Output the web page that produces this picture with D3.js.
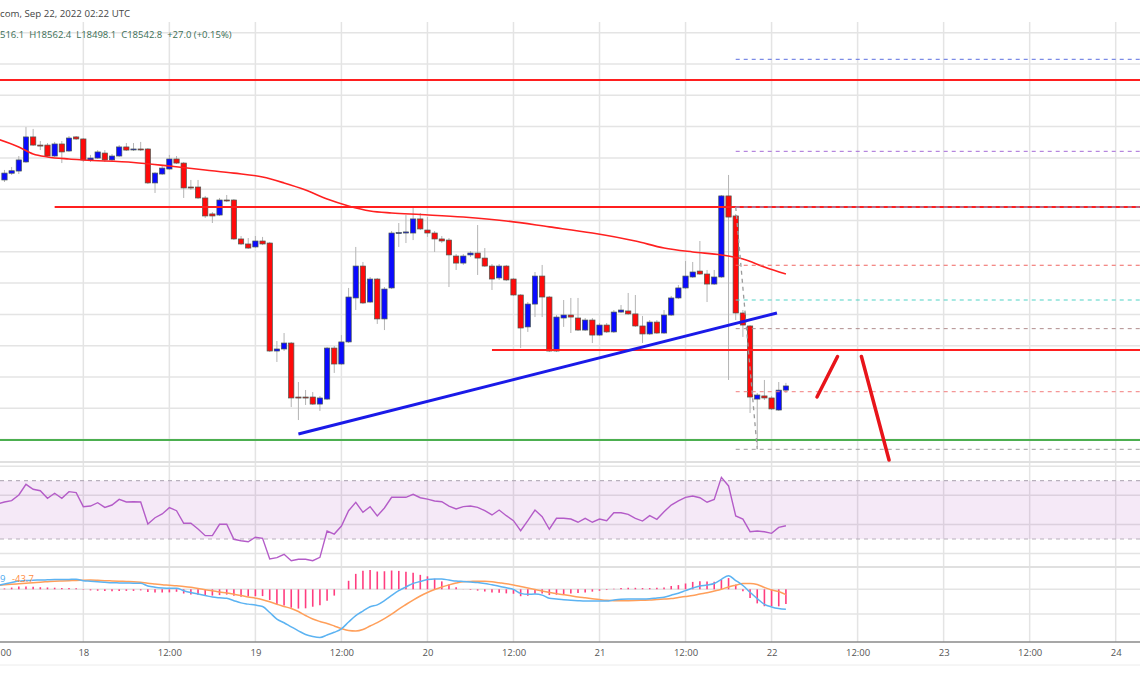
<!DOCTYPE html>
<html><head><meta charset="utf-8">
<script src="https://cdn.jsdelivr.net/npm/d3@7"></script>
<style>html,body{margin:0;padding:0;background:#fff;overflow:hidden;} svg{display:block;font-family:"Open Sans",sans-serif;}</style>
</head><body><svg id="c" width="1140" height="694"></svg>
<script>
// ---------------- DATA ----------------
const startTime = "2022-09-17T13:00:00Z";      // first hourly candle
const indicatorStart = "2022-09-17T12:00:00Z"; // first indicator value
const opens  = [19859,19902,19916,19974,20134,20082,20082,20012,20089,20044,20134,20121,19987,19999,20031,19987,20012,20070,20054,20057,20057,19840,19897,19929,19993,19967,19814,19814,19744,19642,19635,19731,19731,19482,19450,19431,19469,19456,18766,18779,18817,18472,18472,18472,18427,18459,18785,18683,18824,19105,19309,19079,19226,18971,19169,19520,19520,19520,19610,19539,19520,19482,19475,19373,19328,19380,19392,19360,19309,19233,19309,19226,19124,18920,19066,19245,19111,18766,18977,18996,18977,18900,18964,18868,18932,18888,19015,19022,19003,18926,18875,18951,18881,18996,19105,19169,19239,19277,19258,19194,19239,19757,19629,19009,18926,18459,18479,18466,18389,18516.1];
const highs  = [19923,19942,20012,20197,20185,20108,20095,20102,20108,20140,20140,20127,20019,20050,20050,20025,20082,20095,20095,20102,20063,19910,19948,20019,20012,19974,19859,19859,19757,19654,19744,19763,19737,19501,19488,19501,19495,19463,18830,18881,18824,18568,18517,18504,18479,18792,18798,18868,19169,19431,19335,19239,19233,19175,19533,19584,19635,19686,19648,19622,19533,19501,19488,19386,19386,19405,19571,19424,19322,19322,19316,19233,19130,19079,19271,19316,19118,18996,19092,19105,19105,18977,18977,18945,18945,19028,19060,19137,19124,18990,18964,18964,19028,19118,19188,19341,19335,19469,19284,19284,19763,19891,19642,19028,18932,18498,18581,18479,18568,18562.4];
const lows   = [19846,19891,19897,19968,20076,20050,20006,20006,19967,20038,20114,19974,19974,19993,19974,19980,20006,20044,20044,20044,19833,19776,19891,19923,19961,19744,19795,19737,19616,19584,19629,19718,19475,19443,19418,19424,19443,18760,18696,18766,18408,18325,18421,18421,18383,18453,18626,18677,18817,19028,19066,19073,18939,18900,19162,19431,19456,19475,19539,19495,19399,19456,19175,19284,19316,19367,19252,19303,19156,19220,19213,19118,18785,18888,18983,18983,18760,18760,18920,18881,18894,18894,18817,18862,18881,18881,19009,18996,18920,18817,18868,18875,18875,18990,19098,19162,19233,19252,19079,19188,19233,18581,18964,18856,18370,18153,18453,18389,18383,18498.1];
const closes = [19903,19918,19987,20134,20082,20079,20012,20089,20038,20127,20121,19987,19999,20038,19987,20012,20070,20050,20057,20054,19840,19903,19935,19993,19967,19808,19811,19744,19629,19629,19731,19728,19482,19450,19424,19469,19450,18766,18779,18817,18466,18469,18466,18427,18466,18785,18683,18824,19111,19309,19073,19226,18971,19162,19520,19523,19527,19610,19546,19520,19482,19469,19380,19328,19373,19392,19360,19309,19226,19309,19220,19124,18913,19066,19245,19111,18766,18983,18996,18983,18900,18964,18868,18932,18888,19015,19028,19003,18926,18875,18951,18881,18996,19105,19169,19245,19271,19258,19194,19239,19757,19622,19009,18932,18472,18485,18466,18396,18516,18542.8];

// 100-period moving average: candle index -> price
const maIndex = [-1,2,4,6,9,11,18,23,28,32,36,39,42,45,48,51,54,58,64,70,76,82,88,92,96,100,103,106,109];
const maValues = [20121,20070,20025,20006,19993,19987,19971,19948,19923,19903,19878,19840,19795,19737,19693,19661,19648,19638,19622,19597,19559,19520,19469,19424,19399,19380,19354,19303,19258];

// RSI (14) per hour from indicatorStart
const rsiValues = [54.0,55.4,56.3,60.2,67.5,64.1,63.1,57.9,61.4,57.9,62.5,61.8,52.2,52.6,54.9,51.7,53.3,57.2,55.4,55.6,55.4,40.3,44.6,47.2,51.5,49.4,40.8,40.8,36.9,32.3,32.3,40.1,40.1,29.8,28.8,28.1,31.2,30.5,16.3,17.2,19.5,15.1,16.1,16.1,15.1,17.4,35.5,33.4,38.9,49.4,55.2,48.3,52.2,45.8,51.3,58.6,58.6,58.6,60.7,58.3,57.4,56.1,55.6,52.6,50.6,52.2,52.6,51.7,49.4,46.5,49.9,46.0,42.6,35.7,42.6,49.9,45.3,36.7,44.2,44.2,43.7,41.5,44.2,41.5,43.7,42.6,48.0,48.0,46.9,44.2,42.3,46.0,43.5,48.7,53.3,56.1,58.6,59.5,58.3,55.2,57.2,72.3,66.4,45.8,43.7,35.0,35.5,35.0,33.9,38.0,39.1];
const rsiBand = [30, 70];
const rsiGrid = [20, 40, 60, 80];

// MACD (12,26,9) per hour from indicatorStart
const macdValues = [31,43,55,67,71,74,75,77,79,79,80,81,70,66,61,57,53,52,51,49,48,27,17,11,8,8,-11,-26,-38,-50,-63,-69,-73,-92,-110,-120,-128,-139,-188,-241,-271,-305,-336,-366,-382,-390,-370,-348,-320,-265,-213,-176,-141,-126,-92,-50,-11,19,48,63,79,83,83,75,67,63,59,55,47,36,25,12,-1,-33,-41,-39,-47,-73,-79,-85,-88,-92,-95,-95,-95,-95,-87,-81,-79,-79,-79,-77,-70,-64,-48,-32,-11,10,27,35,47,81,110,71,31,-24,-75,-122,-143,-156,-162];
const signalValues = [32,36,41,45,49,53,58,62,66,68,70,72,74,75,73,70,68,66,64,62,57,49,43,37,33,28,23,16,6,-3,-12,-22,-30,-40,-50,-62,-72,-84,-101,-122,-139,-156,-180,-212,-241,-261,-277,-297,-318,-334,-338,-326,-297,-270,-238,-202,-160,-123,-87,-54,-26,-2,19,36,51,62,64,66,65,61,53,45,35,23,11,-2,-14,-26,-35,-44,-53,-62,-69,-76,-83,-89,-92,-92,-92,-91,-89,-87,-83,-79,-75,-66,-58,-50,-38,-28,-14,1,19,33,46,47,39,15,-6,-18,-43.7];
const macdGrid = [-200, 0];

// drawn horizontal levels
const levelPrices = [20498, 19686, 18772, 18197];
const levelStarts = ["2022-09-17T10:00:00Z","2022-09-17T20:00:00Z","2022-09-20T09:00:00Z","2022-09-17T10:00:00Z"];
const levelEnd = "2022-09-24T12:00:00Z";
// rising trend line
const trendTimes = ["2022-09-19T06:00:00Z","2022-09-22T00:45:00Z"];
const trendPrices = [18236, 19009];
// fibonacci-style dashed levels
const fibStart = "2022-09-21T19:00:00Z";
const fibPrices = [20630, 20042, 19686, 19314, 19092, 18909, 18506, 18138];
const fibDiagTimes = ["2022-09-21T19:00:00Z","2022-09-21T22:00:00Z"];
const fibDiagPrices = [19686, 18138];
// projected path strokes
const path1Times = ["2022-09-22T06:20:00Z","2022-09-22T09:12:00Z"];
const path1Prices = [18472, 18731];
const path2Times = ["2022-09-22T12:32:00Z","2022-09-22T16:23:00Z"];
const path2Prices = [18731, 18070];

// texts
const headerText = "com, Sep 22, 2022 02:22 UTC";
const ohlcText = "516.1  H18562.4  L18498.1  C18542.8  +27.0 (+0.15%)";
const macdLegend = ["9", "-43.7"];

// ---------------- STYLE / LAYOUT ----------------
const W = 1140, H = 694;
const pane = {top: 22, mainBottom: 462, rsiBottom: 567, axis: 642, axisBottom: 665};
const fibColors = ["#5b6ee0","#a56bd6","#6ab7f0","#f06460","#4fd3c6","#b08c8c","#f27d7d","#9e9e9e"];
const levelColors = ["#ff1f1f","#ff1f1f","#ff1f1f","#4caf50"];
const gridColor = "#e4e4e4";

const svg = d3.select("#c");
const x = d3.scaleUtc()
  .domain([new Date("2022-09-17T12:00:00Z"), new Date("2022-09-24T00:00:00Z")])
  .range([-2.7, 1115.7]);
const yPrice = d3.scaleLinear().domain([18200, 20800]).range([439.6, 32.7]);
const yRsi = d3.scaleLinear().domain([30, 70]).range([539, 480.7]);
const yMacd = d3.scaleLinear().domain([-200, 0]).range([614, 589.3]);

const times = opens.map((_, i) => d3.utcHour.offset(new Date(startTime), i));
const indTimes = rsiValues.map((_, i) => d3.utcHour.offset(new Date(indicatorStart), i));
const maTimes = maIndex.map(i => d3.utcHour.offset(new Date(startTime), i));

const defs = svg.append("defs");
function clip(id, y0, y1){ defs.append("clipPath").attr("id", id).append("rect").attr("x",0).attr("y",y0).attr("width",W).attr("height",y1-y0); }
clip("cMain", pane.top, pane.mainBottom);
clip("cRsi", pane.mainBottom, pane.rsiBottom);
clip("cMacd", pane.rsiBottom, pane.axis);

// vertical grid
const tickTimes = x.ticks(d3.utcHour.every(12));
svg.append("g").selectAll("line").data(tickTimes).join("line")
  .attr("x1", d => x(d)).attr("x2", d => x(d))
  .attr("y1", pane.top).attr("y2", pane.axis)
  .attr("stroke", gridColor).attr("stroke-width", 1.5);

// main horizontal grid
svg.append("g").selectAll("line").data(yPrice.ticks(13)).join("line")
  .attr("x1", 0).attr("x2", W).attr("y1", d => yPrice(d)).attr("y2", d => yPrice(d))
  .attr("stroke", gridColor).attr("stroke-width", 1.5);

// pane separators
svg.append("g").selectAll("line").data([pane.mainBottom, pane.rsiBottom]).join("line")
  .attr("x1", 0).attr("x2", W).attr("y1", d => d).attr("y2", d => d)
  .attr("stroke", "#e0e0e0").attr("stroke-width", 2);

// ---------- RSI pane ----------
const gR = svg.append("g").attr("clip-path", "url(#cRsi)");
gR.selectAll("line.g").data(rsiGrid).join("line").attr("class","g")
  .attr("x1",0).attr("x2",W).attr("y1",d=>yRsi(d)).attr("y2",d=>yRsi(d))
  .attr("stroke", gridColor).attr("stroke-width", 1.5);
gR.append("rect").attr("x",0).attr("width",W)
  .attr("y", yRsi(rsiBand[1])).attr("height", yRsi(rsiBand[0]) - yRsi(rsiBand[1]))
  .attr("fill", "rgba(156,39,176,0.10)");
gR.selectAll("line.b").data(rsiBand).join("line").attr("class","b")
  .attr("x1",0).attr("x2",W).attr("y1",d=>yRsi(d)).attr("y2",d=>yRsi(d))
  .attr("stroke", "#b8b0bc").attr("stroke-width", 1.2).attr("stroke-dasharray","4,4");
gR.append("path").datum(rsiValues)
  .attr("d", d3.line().x((d,i)=>x(indTimes[i])).y(d=>yRsi(d)))
  .attr("fill","none").attr("stroke","#b45cc8").attr("stroke-width",1.4);

// ---------- MACD pane ----------
const gM = svg.append("g").attr("clip-path", "url(#cMacd)");
gM.selectAll("line.g").data(macdGrid).join("line").attr("class","g")
  .attr("x1",0).attr("x2",W).attr("y1",d=>yMacd(d)).attr("y2",d=>yMacd(d))
  .attr("stroke", gridColor).attr("stroke-width", 1.5);
gM.selectAll("line.h").data(macdValues.map((m,i)=>m - signalValues[i])).join("line").attr("class","h")
  .attr("x1",(d,i)=>x(indTimes[i])).attr("x2",(d,i)=>x(indTimes[i]))
  .attr("y1", yMacd(0)).attr("y2", d=>yMacd(d))
  .attr("stroke","#ff3d7f").attr("stroke-width",1.6);
gM.append("path").datum(signalValues)
  .attr("d", d3.line().x((d,i)=>x(indTimes[i])).y(d=>yMacd(d)).curve(d3.curveMonotoneX))
  .attr("fill","none").attr("stroke","#ff9f5a").attr("stroke-width",1.5);
gM.append("path").datum(macdValues)
  .attr("d", d3.line().x((d,i)=>x(indTimes[i])).y(d=>yMacd(d)).curve(d3.curveMonotoneX))
  .attr("fill","none").attr("stroke","#5cb3f2").attr("stroke-width",1.5);

// ---------- main pane ----------
const g = svg.append("g").attr("clip-path", "url(#cMain)");
const bw = 5.3;
const cg = g.append("g");
cg.selectAll("line").data(times).join("line")
  .attr("x1",d=>x(d)).attr("x2",d=>x(d))
  .attr("y1",(d,i)=>yPrice(highs[i])).attr("y2",(d,i)=>yPrice(lows[i]))
  .attr("stroke","#b4b4b4").attr("stroke-width",1);
cg.selectAll("rect").data(times).join("rect")
  .attr("x",d=>x(d)-bw/2).attr("width",bw)
  .attr("y",(d,i)=>yPrice(Math.max(opens[i],closes[i])))
  .attr("height",(d,i)=>Math.max(1, Math.abs(yPrice(opens[i])-yPrice(closes[i]))))
  .attr("fill",(d,i)=>closes[i]>=opens[i] ? "#0a0aff" : "#ff0a0a")
  .attr("stroke","#4b5a52").attr("stroke-width",0.7);

// moving average
g.append("path").datum(maValues)
  .attr("d", d3.line().x((d,i)=>x(maTimes[i])).y(d=>yPrice(d)).curve(d3.curveMonotoneX))
  .attr("fill","none").attr("stroke","#ff2020").attr("stroke-width",1.6);

// horizontal drawn levels
g.selectAll("line.lv").data(levelPrices).join("line").attr("class","lv")
  .attr("x1",(d,i)=>x(new Date(levelStarts[i]))).attr("x2",x(new Date(levelEnd)))
  .attr("y1",d=>yPrice(d)).attr("y2",d=>yPrice(d))
  .attr("stroke",(d,i)=>levelColors[i]).attr("stroke-width",2);

// fib dashed levels
g.selectAll("line.fb").data(fibPrices).join("line").attr("class","fb")
  .attr("x1",x(new Date(fibStart))).attr("x2",x(new Date(levelEnd)))
  .attr("y1",d=>yPrice(d)).attr("y2",d=>yPrice(d))
  .attr("stroke",(d,i)=>fibColors[i]).attr("stroke-width",1).attr("stroke-dasharray","4,4");
g.append("line")
  .attr("x1",x(new Date(fibDiagTimes[0]))).attr("y1",yPrice(fibDiagPrices[0]))
  .attr("x2",x(new Date(fibDiagTimes[1]))).attr("y2",yPrice(fibDiagPrices[1]))
  .attr("stroke","#9a9a9a").attr("stroke-width",1.3).attr("stroke-dasharray","4,4");

// trend line
g.append("line")
  .attr("x1",x(new Date(trendTimes[0]))).attr("y1",yPrice(trendPrices[0]))
  .attr("x2",x(new Date(trendTimes[1]))).attr("y2",yPrice(trendPrices[1]))
  .attr("stroke","#1a1ae8").attr("stroke-width",3);

// projected path
[[path1Times,path1Prices],[path2Times,path2Prices]].forEach(([t,p])=>{
  g.append("line")
    .attr("x1",x(new Date(t[0]))).attr("y1",yPrice(p[0]))
    .attr("x2",x(new Date(t[1]))).attr("y2",yPrice(p[1]))
    .attr("stroke","#e8141a").attr("stroke-width",3.5).attr("stroke-linecap","round");
});

// ---------- time axis ----------
svg.append("line").attr("x1",0).attr("x2",W).attr("y1",pane.axis).attr("y2",pane.axis)
  .attr("stroke","#8a8a8a").attr("stroke-width",1.5);
svg.append("line").attr("x1",0).attr("x2",W).attr("y1",pane.axisBottom).attr("y2",pane.axisBottom)
  .attr("stroke","#ececec").attr("stroke-width",1);
const axis = d3.axisBottom(x).ticks(d3.utcHour.every(12))
  .tickFormat(d => d.getUTCHours() === 0 ? d3.utcFormat("%-d")(d) : d3.utcFormat("%H:%M")(d))
  .tickSize(0).tickPadding(7);
const ax = svg.append("g").attr("transform",`translate(0,${pane.axis})`).call(axis);
ax.select(".domain").remove();
ax.selectAll("text").attr("fill","#555").attr("font-size","9.5px").attr("font-family","Open Sans, sans-serif");
// the first tick sits at the left edge: show only its visible part, kept inside the frame
ax.selectAll(".tick").filter(d => x(d) < 10).select("text")
  .text(d => d3.utcFormat("%M")(d)).attr("text-anchor","start").attr("x", d => -x(d));

// ---------- texts ----------
svg.append("text").attr("x",0).attr("y",17).text(headerText)
  .attr("font-size","9.7px").attr("fill","#444");
svg.append("text").attr("x",0).attr("y",38).text(ohlcText).attr("xml:space","preserve")
  .attr("font-size","9.5px").attr("fill","#3b6e55").style("white-space","pre");
svg.append("text").attr("x",0).attr("y",582).text(macdLegend[0])
  .attr("font-size","9.5px").attr("fill","#4aa8ee");
svg.append("text").attr("x",12).attr("y",582).text(macdLegend[1])
  .attr("font-size","9.5px").attr("fill","#ff8c42");
</script>
</body></html>
